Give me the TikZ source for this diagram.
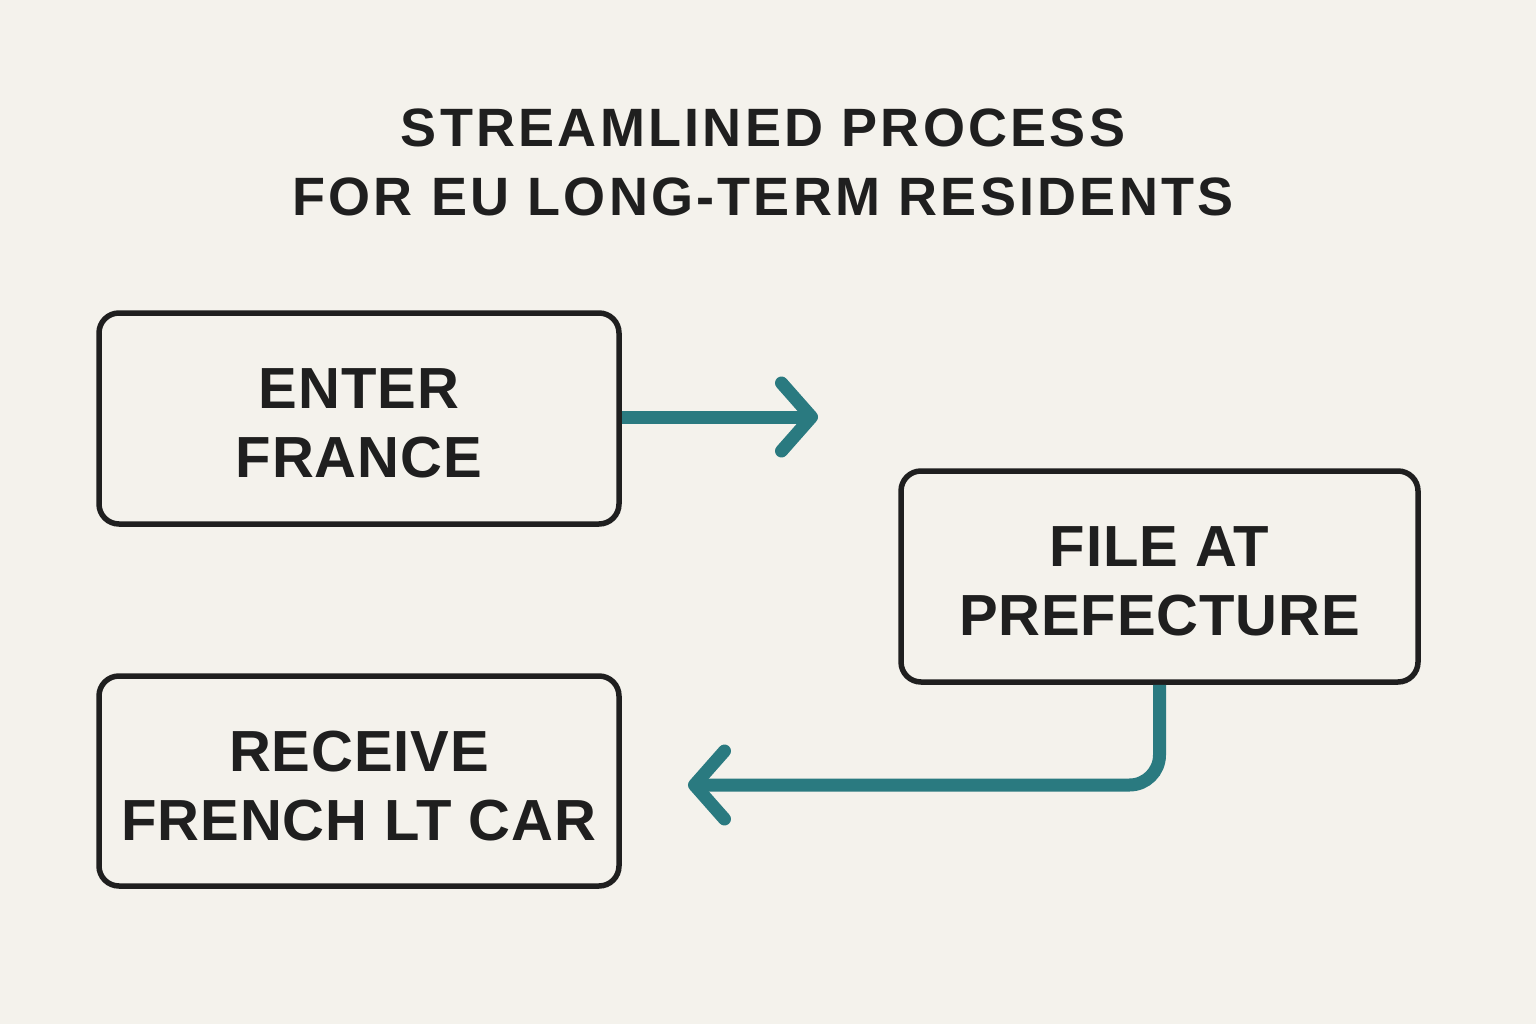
\documentclass[tikz,border=0pt]{standalone}
\usepackage{fontspec}
\setmainfont{Liberation Sans}
\usetikzlibrary{arrows.meta}
\definecolor{bg}{HTML}{F4F2EC}
\definecolor{ink}{HTML}{1F1F1F}
\definecolor{teal}{HTML}{2A7A80}
\newfontfamily\titlefont[LetterSpace=6]{Liberation Sans Bold}
\newfontfamily\boxfont[LetterSpace=1.5]{Liberation Sans Bold}
\tikzset{
  stepbox/.style={draw=ink, line width=5.5pt, rounded corners=20pt, fill=bg,
    minimum width=520pt, minimum height=211pt, align=center, text=ink,
    font=\boxfont\fontsize{58}{69}\selectfont},
  flow/.style={draw=teal, line width=13pt, rounded corners=30pt,
    -{Straight Barb[length=30pt,width=68pt,round]}}
}
\begin{document}
\begin{tikzpicture}[x=1pt,y=-1pt]
\fill[bg] (0,0) rectangle (1536,1024);
\useasboundingbox (0,0) rectangle (1536,1024);
\node[text=ink, align=center, font=\titlefont\fontsize{54}{69}\selectfont] (title) at (763,162) {STREAMLINED PROCESS\\FOR EU LONG-TERM RESIDENTS};
\node[stepbox] (enter) at (359,418.5) {\rule{0pt}{50pt}ENTER\\FRANCE};
\node[stepbox, minimum width=517pt] (file) at (1159.5,576.5) {\rule{0pt}{50pt}FILE AT\\PREFECTURE};
\node[stepbox, minimum height=210pt] (receive) at (359,781) {\rule{0pt}{50pt}RECEIVE\\FRENCH LT CAR};
\coordinate (t1) at (818,417);
\coordinate (t2) at (688,785);
\draw[flow] (enter.east |- t1) -- (t1);
\draw[flow] (file.south) |- (t2);
\end{tikzpicture}
\end{document}
